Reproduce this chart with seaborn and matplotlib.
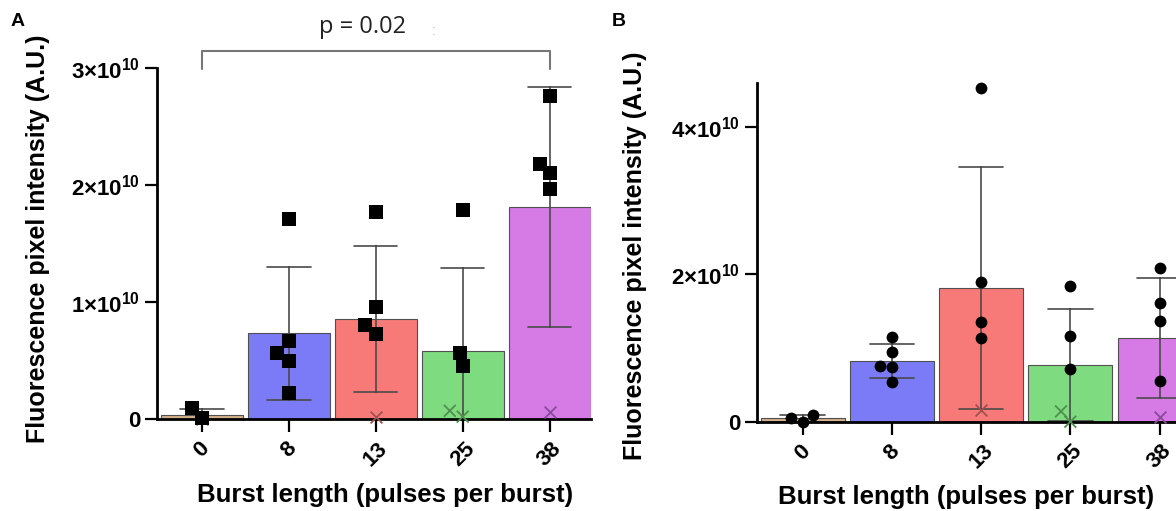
import matplotlib
matplotlib.use("Agg")
import matplotlib.pyplot as plt
import seaborn as sns
import pandas as pd

# ---------------- data (values in units of 1e10 A.U.) ----------------
CATEGORIES = ["0", "8", "13", "25", "38"]
BAR_COLORS = ["#d4b08c", "#7b7bf7", "#f87a78", "#7fdb7f", "#d67ae6"]
CROSS_COLORS = ["#8b6a4a", "#3a3aa0", "#a05050", "#4f8f4f", "#8a4a9a"]
SCALE = 1e10

# Panel A: square points and cross points per group
A_SQ_0 = [0.01, 0.09]
A_SQ_8 = [1.71, 0.56, 0.67, 0.50, 0.22]
A_SQ_13 = [1.77, 0.96, 0.80, 0.73]
A_SQ_25 = [1.79, 0.56, 0.45]
A_SQ_38 = [2.76, 2.10, 2.18, 1.97]
A_X_0 = [0.00]
A_X_8 = []
A_X_13 = [0.02]
A_X_25 = [0.02, 0.07]
A_X_38 = [0.06]

# Panel B: round points and cross points per group
B_DOT_0 = [0.00, 0.09, 0.046]
B_DOT_8 = [1.15, 0.95, 0.76, 0.74, 0.54]
B_DOT_13 = [4.53, 1.89, 1.35, 1.13]
B_DOT_25 = [1.84, 1.16, 0.71]
B_DOT_38 = [2.08, 1.61, 1.36, 0.55]
B_X_0 = []
B_X_8 = []
B_X_13 = [0.16]
B_X_25 = [0.00, 0.14]
B_X_38 = [0.06]

A_YTICKS = [0, 1, 2, 3]
A_YTICKLABELS = ["0", "1×10$^{10}$", "2×10$^{10}$", "3×10$^{10}$"]
B_YTICKS = [0, 2, 4]
B_YTICKLABELS = ["0", "2×10$^{10}$", "4×10$^{10}$"]
A_YMAX = 3.0
B_YMAX = 4.59

P_TEXT = "p = 0.02"
YLABEL = "Fluorescence pixel intensity (A.U.)"
XLABEL = "Burst length (pulses per burst)"


def build(pts, crosses):
    rows = []
    for cat, p, c in zip(CATEGORIES, pts, crosses):
        rows += [{"group": cat, "value": v * SCALE, "kind": "pt"} for v in p]
        rows += [{"group": cat, "value": v * SCALE, "kind": "x"} for v in c]
    return pd.DataFrame(rows)


dfA = build([A_SQ_0, A_SQ_8, A_SQ_13, A_SQ_25, A_SQ_38],
            [A_X_0, A_X_8, A_X_13, A_X_25, A_X_38])
dfB = build([B_DOT_0, B_DOT_8, B_DOT_13, B_DOT_25, B_DOT_38],
            [B_X_0, B_X_8, B_X_13, B_X_25, B_X_38])

# ---------------- style ----------------
sns.set_theme(style="ticks")
plt.rcParams["font.family"] = ["Liberation Sans", "DejaVu Sans"]
plt.rcParams["mathtext.fontset"] = "custom"
plt.rcParams["mathtext.rm"] = "Liberation Sans:bold"
plt.rcParams["mathtext.bf"] = "Liberation Sans:bold"
plt.rcParams["mathtext.it"] = "Liberation Sans:bold"
plt.rcParams["mathtext.default"] = "bf"
for k in ("text.color", "axes.labelcolor", "xtick.color", "ytick.color"):
    plt.rcParams[k] = "black"

W, H = 1176, 511
fig = plt.figure(figsize=(W / 100, H / 100), dpi=100)
axA = fig.add_axes([157 / W, 1 - 419 / H, (591 - 157) / W, (419 - 68) / H])
axB = fig.add_axes([757 / W, 1 - 421.7 / H, (1176 - 757) / W, (421.7 - 83.3) / H])


def draw(ax, df, marker, msize, ymax, yticks, yticklabels, xlim,
         ylab_xy, xlab_xy):
    sns.barplot(data=df, x="group", y="value", order=CATEGORIES,
                hue="group", hue_order=CATEGORIES, palette=BAR_COLORS,
                errorbar="sd", capsize=0.5, width=0.94, saturation=1,
                edgecolor="#505050", linewidth=0.8,
                err_kws={"color": "#4a4a4a", "linewidth": 1.2},
                legend=False, ax=ax)
    sns.swarmplot(data=df[df["kind"] == "x"], x="group", y="value",
                  order=CATEGORIES, hue="group", hue_order=CATEGORIES,
                  palette=CROSS_COLORS, marker="x", size=8.5, linewidth=1.3,
                  legend=False, ax=ax)
    sns.swarmplot(data=df[df["kind"] == "pt"], x="group", y="value",
                  order=CATEGORIES, color="black", marker=marker,
                  size=msize, linewidth=0, ax=ax)
    for c in ax.collections:
        c.set_clip_on(False)
    ax.set_xlim(*xlim)
    ax.set_ylim(0, ymax * SCALE)
    ax.set_yticks([t * SCALE for t in yticks])
    ax.set_yticklabels(yticklabels, fontsize=16, fontweight="bold")
    ax.set_xticks(range(len(CATEGORIES)))
    ax.set_xticklabels(CATEGORIES, rotation=45, ha="center", va="top",
                       fontsize=16, fontweight="bold")
    sns.despine(ax=ax)
    for s in ("left", "bottom"):
        ax.spines[s].set_linewidth(2)
        ax.spines[s].set_color("black")
    ax.tick_params(axis="y", direction="out", length=8.5, width=1.6,
                   colors="black", pad=3.5)
    ax.tick_params(axis="x", direction="out", length=9.5, width=1.6,
                   colors="black", pad=4)
    ax.set_xlabel(XLABEL, fontsize=18.5, fontweight="bold")
    ax.set_ylabel(YLABEL, fontsize=18, fontweight="bold")
    ax.xaxis.set_label_coords(*xlab_xy)
    ax.xaxis.label.set_va("center")
    ax.yaxis.set_label_coords(*ylab_xy)
    ax.yaxis.label.set_va("center")


draw(axA, dfA, "s", 9.5, A_YMAX, A_YTICKS, A_YTICKLABELS, (-0.515, 4.475),
     (-0.275, 0.514), ((385 - 157) / 434, -0.2165))
draw(axB, dfB, "o", 8.5, B_YMAX, B_YTICKS, B_YTICKLABELS, (-0.513, 4.185),
     (-0.291, 0.49), ((966 - 757) / 419, -0.2216))

# significance bracket on panel A (group "0" to group "38")
yb_top, yb_end = 3.145 * SCALE, 2.99 * SCALE
axA.plot([0, 0, 4, 4], [yb_end, yb_top, yb_top, yb_end], color="#777777",
         linewidth=1.5, clip_on=False)
axA.text(1.85, 3.35 * SCALE, P_TEXT, ha="center", va="center",
         fontsize=17, color="#222222", family=["Open Sans", "DejaVu Sans"])
axA.text(2.66, 3.32 * SCALE, ":", ha="center", va="center", fontsize=10,
         color="#bbbbbb")

fig.text(18 / W, 1 - 22 / H, "A", fontsize=14, fontweight="bold",
         ha="center", va="center")
fig.text(619 / W, 1 - 22 / H, "B", fontsize=14, fontweight="bold",
         ha="center", va="center")

fig.savefig("out.png", dpi=100)
